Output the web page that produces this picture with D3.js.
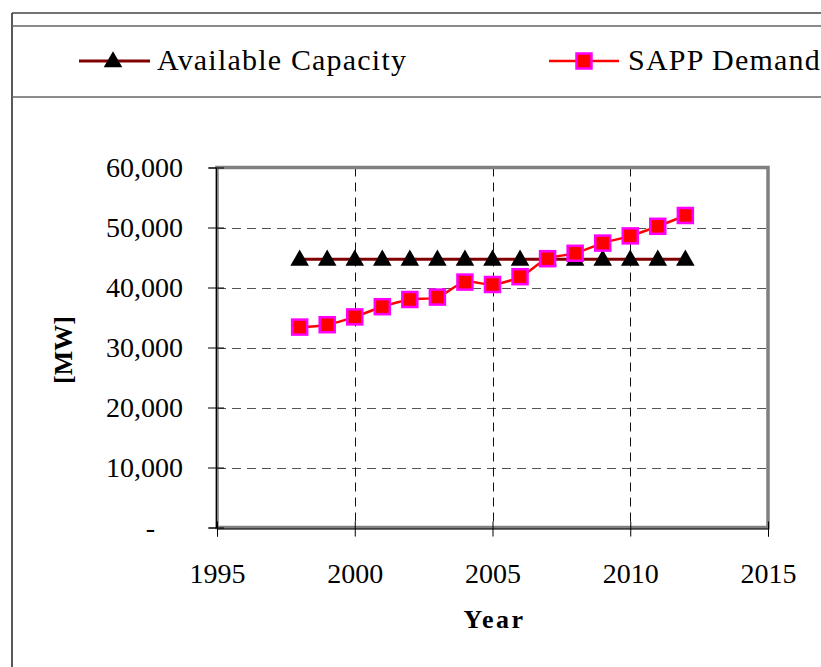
<!DOCTYPE html>
<html>
<head>
<meta charset="utf-8">
<script src="https://cdn.jsdelivr.net/npm/d3@7"></script>
<style>
  body { margin: 0; background: #fff; }
  svg { display: block; }
  text { font-family: "Liberation Serif", "Times New Roman", serif; }
</style>
</head>
<body>
<svg id="chart" width="821" height="667"></svg>
<script>
// Data
const years = [1998, 1999, 2000, 2001, 2002, 2003, 2004, 2005, 2006, 2007, 2008, 2009, 2010, 2011, 2012];
const capacity = [44700, 44700, 44700, 44700, 44700, 44700, 44700, 44700, 44700, 44700, 44700, 44700, 44700, 44700, 44700];
const demand = [33400, 33800, 35100, 36800, 38000, 38400, 40900, 40500, 41800, 44800, 45700, 47400, 48600, 50200, 52000];
const xTicks = [1995, 2000, 2005, 2010, 2015];
const yTicks = [0, 10000, 20000, 30000, 40000, 50000, 60000];
const seriesNames = ["Available Capacity", "SAPP Demand"];

const serif = "Liberation Serif, Times New Roman, serif";
const svg = d3.select("#chart");

// Outer frame
svg.append("line").attr("x1", 12).attr("x2", 12).attr("y1", 13).attr("y2", 667)
    .attr("stroke", "#222").attr("stroke-width", 1.5);
svg.append("line").attr("x1", 12).attr("x2", 821).attr("y1", 13).attr("y2", 13)
    .attr("stroke", "#444").attr("stroke-width", 1.5);
svg.append("line").attr("x1", 12).attr("x2", 821).attr("y1", 26).attr("y2", 26)
    .attr("stroke", "#666").attr("stroke-width", 1.5);
svg.append("line").attr("x1", 12).attr("x2", 821).attr("y1", 97).attr("y2", 97)
    .attr("stroke", "#666").attr("stroke-width", 1.5);

// Plot area
const plotLeft = 217, plotRight = 768, plotTop = 167.5, plotBottom = 527.5;

const x = d3.scaleLinear().domain([1995, 2015]).range([plotLeft, plotRight]);
const y = d3.scaleLinear().domain([0, 60000]).range([plotBottom, plotTop]);

// Gridlines
svg.append("g")
    .selectAll("line")
    .data(yTicks.filter(d => d > 0 && d < 60000))
    .join("line")
    .attr("x1", plotLeft).attr("x2", plotRight)
    .attr("y1", d => Math.round(y(d)) + 0.5).attr("y2", d => Math.round(y(d)) + 0.5)
    .attr("stroke", "#555").attr("stroke-dasharray", "9,6");

svg.append("g")
    .selectAll("line")
    .data(xTicks.filter(d => d > 1995 && d < 2015))
    .join("line")
    .attr("x1", d => Math.round(x(d)) + 0.5).attr("x2", d => Math.round(x(d)) + 0.5)
    .attr("y1", plotTop).attr("y2", plotBottom)
    .attr("stroke", "#111").attr("stroke-dasharray", "9,6");

// Plot frame
svg.append("rect")
    .attr("x", plotLeft).attr("y", plotTop)
    .attr("width", plotRight - plotLeft).attr("height", plotBottom - plotTop)
    .attr("fill", "none").attr("stroke", "#808080").attr("stroke-width", 3.5);

// Axes
const yAxis = svg.append("g")
    .attr("transform", `translate(${plotLeft - 1},0)`)
    .call(d3.axisLeft(y).tickValues(yTicks).tickSize(7).tickPadding(26)
        .tickFormat(d => d === 0 ? "-" : d3.format(",")(d)));
yAxis.select(".domain").attr("stroke", "#000").attr("stroke-width", 1);
yAxis.selectAll(".tick line").attr("x2", -8).attr("x1", 8);
yAxis.selectAll(".tick text")
    .attr("font-size", 28).attr("fill", "#000").attr("font-family", serif);
yAxis.selectAll(".tick").filter(d => d === 0).select("text").attr("x", -61);

const xAxis = svg.append("g")
    .attr("transform", `translate(0,${plotBottom + 1})`)
    .call(d3.axisBottom(x).tickValues(xTicks).tickSize(8).tickPadding(27)
        .tickFormat(d3.format("d")));
xAxis.select(".domain").attr("stroke", "#000").attr("stroke-width", 1);
xAxis.selectAll(".tick line").attr("y1", -7);
xAxis.selectAll(".tick text")
    .attr("font-size", 28).attr("fill", "#000").attr("font-family", serif);

// Axis titles
svg.append("text")
    .attr("x", (plotLeft + plotRight) / 2 + 2).attr("y", 628)
    .attr("text-anchor", "middle")
    .attr("font-family", serif)
    .attr("font-size", 26).attr("font-weight", "bold")
    .attr("letter-spacing", 2.5)
    .text("Year");

svg.append("text")
    .attr("transform", "translate(72,350) rotate(-90)")
    .attr("text-anchor", "middle")
    .attr("font-family", serif)
    .attr("font-size", 26).attr("font-weight", "bold")
    .text("[MW]");

// Series
const curve = d3.curveCatmullRom.alpha(0.5);
const capLine = d3.line().x((d, i) => x(years[i])).y(d => y(d)).curve(curve);
const demLine = d3.line().x((d, i) => x(years[i])).y(d => y(d)).curve(curve);

const triangle = d3.symbol().type(d3.symbolTriangle).size(150);

svg.append("path")
    .attr("d", capLine(capacity))
    .attr("fill", "none").attr("stroke", "#800000").attr("stroke-width", 3);

svg.append("g")
    .selectAll("path")
    .data(capacity)
    .join("path")
    .attr("transform", (d, i) => `translate(${x(years[i])},${y(d) + 1})`)
    .attr("d", triangle)
    .attr("fill", "#000");

svg.append("path")
    .attr("d", demLine(demand))
    .attr("fill", "none").attr("stroke", "#ff0000").attr("stroke-width", 2.5);

svg.append("g")
    .selectAll("rect")
    .data(demand)
    .join("rect")
    .attr("x", (d, i) => x(years[i]) - 7.5)
    .attr("y", d => y(d) - 7.5)
    .attr("width", 15).attr("height", 15)
    .attr("fill", "#ff0000").attr("stroke", "#ff00ff").attr("stroke-width", 2.5);

// Legend
const legend = svg.append("g");
legend.append("line").attr("x1", 79).attr("x2", 150).attr("y1", 61).attr("y2", 61)
    .attr("stroke", "#800000").attr("stroke-width", 3);
legend.append("path").attr("transform", "translate(113,62)").attr("d", triangle).attr("fill", "#000");
legend.append("text").attr("x", 157).attr("y", 70)
    .attr("font-family", serif)
    .attr("font-size", 30).attr("letter-spacing", 1.2).text(seriesNames[0]);

legend.append("line").attr("x1", 549).attr("x2", 619).attr("y1", 61).attr("y2", 61)
    .attr("stroke", "#ff0000").attr("stroke-width", 2.5);
legend.append("rect").attr("x", 576.5).attr("y", 53.5).attr("width", 15).attr("height", 15)
    .attr("fill", "#ff0000").attr("stroke", "#ff00ff").attr("stroke-width", 2.5);
legend.append("text").attr("x", 628).attr("y", 70)
    .attr("font-family", serif)
    .attr("font-size", 30).attr("letter-spacing", 1.2).text(seriesNames[1]);
</script>
</body>
</html>
